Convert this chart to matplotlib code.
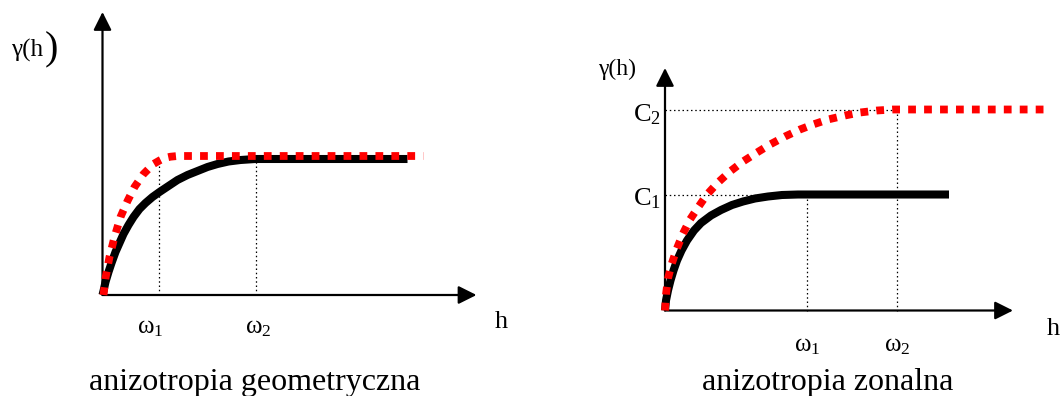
# anizotropia - dwa wykresy semiwariogramu

import matplotlib.pyplot as plt

plt.rcParams['font.family'] = ['Liberation Serif', 'DejaVu Serif']
plt.rcParams['mathtext.default'] = 'regular'

# anizotropia geometryczna (lewy wykres)
geo_black_h = [0, 1, 3, 6, 9, 13, 17, 21, 26, 31, 37, 43, 50, 57, 66, 75, 85,
               95, 105, 115, 126, 138, 153, 305]
geo_black_g = [0, 4, 13, 23, 32, 43, 52, 61, 70, 78, 86, 92, 98, 103, 109, 115,
               120, 124, 128, 131, 133.5, 135, 136, 136]
geo_red_h = [1, 3, 7, 12, 18, 25, 32, 41, 51, 57, 62, 68, 75, 321]
geo_red_g = [0, 17, 38, 58, 78, 94, 108, 121, 131, 134.5, 137, 138.3, 139, 139]
geo_omega = [56, 153]
geo_omega_top = [134, 136]

# anizotropia zonalna (prawy wykres)
zon_black_h = [0, 1, 3, 5.5, 8.5, 12, 16.5, 22, 29, 36, 46, 56, 67, 78, 90,
               103, 117, 133, 284]
zon_black_g = [0, 10, 20, 30, 40, 50, 60, 70, 80, 87.5, 95, 100.5, 105.5, 109,
               112, 114, 115.5, 116, 116]
zon_red_h = [0, 1, 3, 6.5, 11.5, 18, 25, 33, 42, 53, 65, 78, 92, 105, 120, 135,
             148, 163, 180, 195, 212, 228, 381]
zon_red_g = [0, 16, 32, 46, 61, 77, 91, 103, 116, 128, 139, 149, 158, 166, 174,
             181, 186, 191, 195, 198, 200, 201, 201]
zon_omega = [142, 232]
zon_sill = [116, 200.5]

omega_labels = [r'$\omega_1$', r'$\omega_2$']
sill_labels = [r'$C_1$', r'$C_2$']

fig = plt.figure(figsize=(10.6, 3.96), dpi=100)
ax1 = fig.add_axes([0, 0, 0.5, 1])
ax2 = fig.add_axes([0.5, 0, 0.5, 1])
ax1.set_xlim(-102.5, 427.5)
ax1.set_ylim(-101, 295)
ax2.set_xlim(-135, 395)
ax2.set_ylim(-85.5, 310.5)


def draw_axes(ax, xtip, ytip):
    style = '-|>,head_length=1.1,head_width=0.55'
    for tip in [(xtip, 0), (0, ytip)]:
        ax.annotate('', xy=tip, xytext=(0, 0), zorder=1,
                    arrowprops=dict(arrowstyle=style, mutation_scale=10, lw=1.6,
                                    color='black', shrinkA=0, shrinkB=0))


dot = dict(color='black', lw=0.9, dashes=(1.2, 2.2), zorder=1)
black = dict(color='black', lw=5.8, solid_capstyle='butt', solid_joinstyle='round', zorder=2)
red = dict(color='red', lw=5.6, dashes=(1.0, 1.05), dash_capstyle='butt', zorder=3)
small = 18

# lewy wykres
draw_axes(ax1, 374, 283)
for w, top in zip(geo_omega, geo_omega_top):
    ax1.plot([w, w], [0, top], **dot)
ax1.plot(geo_black_h, geo_black_g, **black)
ax1.plot(geo_red_h, geo_red_g, **red)
for w, lab, xo in zip(geo_omega, omega_labels, [-8, 3]):
    ax1.text(w + xo, -38, lab, fontsize=small, ha='center', va='baseline')
ax1.text(399, -33, 'h', fontsize=19, ha='center', va='baseline')
ax1.text(-91, 238, 'γ(h', fontsize=18, ha='left', va='baseline')
ax1.text(-58, 245, ')', fontsize=29, ha='left', va='center')
ax1.text(152.5, -95, 'anizotropia geometryczna', fontsize=23, ha='center', va='baseline')

# prawy wykres
draw_axes(ax2, 348, 242.5)
ax2.plot([0, zon_omega[0]], [zon_sill[0], zon_sill[0]], **dot)
ax2.plot([0, zon_omega[1]], [zon_sill[1], zon_sill[1]], **dot)
for w, s in zip(zon_omega, zon_sill):
    ax2.plot([w, w], [0, s], **dot)
ax2.plot(zon_black_h, zon_black_g, **black)
ax2.plot(zon_red_h, zon_red_g, **red)
for w, lab in zip(zon_omega, omega_labels):
    ax2.text(w, -41, lab, fontsize=small, ha='center', va='baseline')
for s, lab in zip(zon_sill, sill_labels):
    ax2.text(-4, s - 11, lab, fontsize=19, ha='right', va='baseline')
ax2.text(382, -24.5, 'h', fontsize=19, ha='left', va='baseline')
ax2.text(-47.5, 235.5, 'γ(h)', fontsize=17, ha='center', va='baseline')
ax2.text(163, -79.5, 'anizotropia zonalna', fontsize=23, ha='center', va='baseline')

for ax in [ax1, ax2]:
    ax.axis('off')

plt.savefig('out.png', dpi=100)
